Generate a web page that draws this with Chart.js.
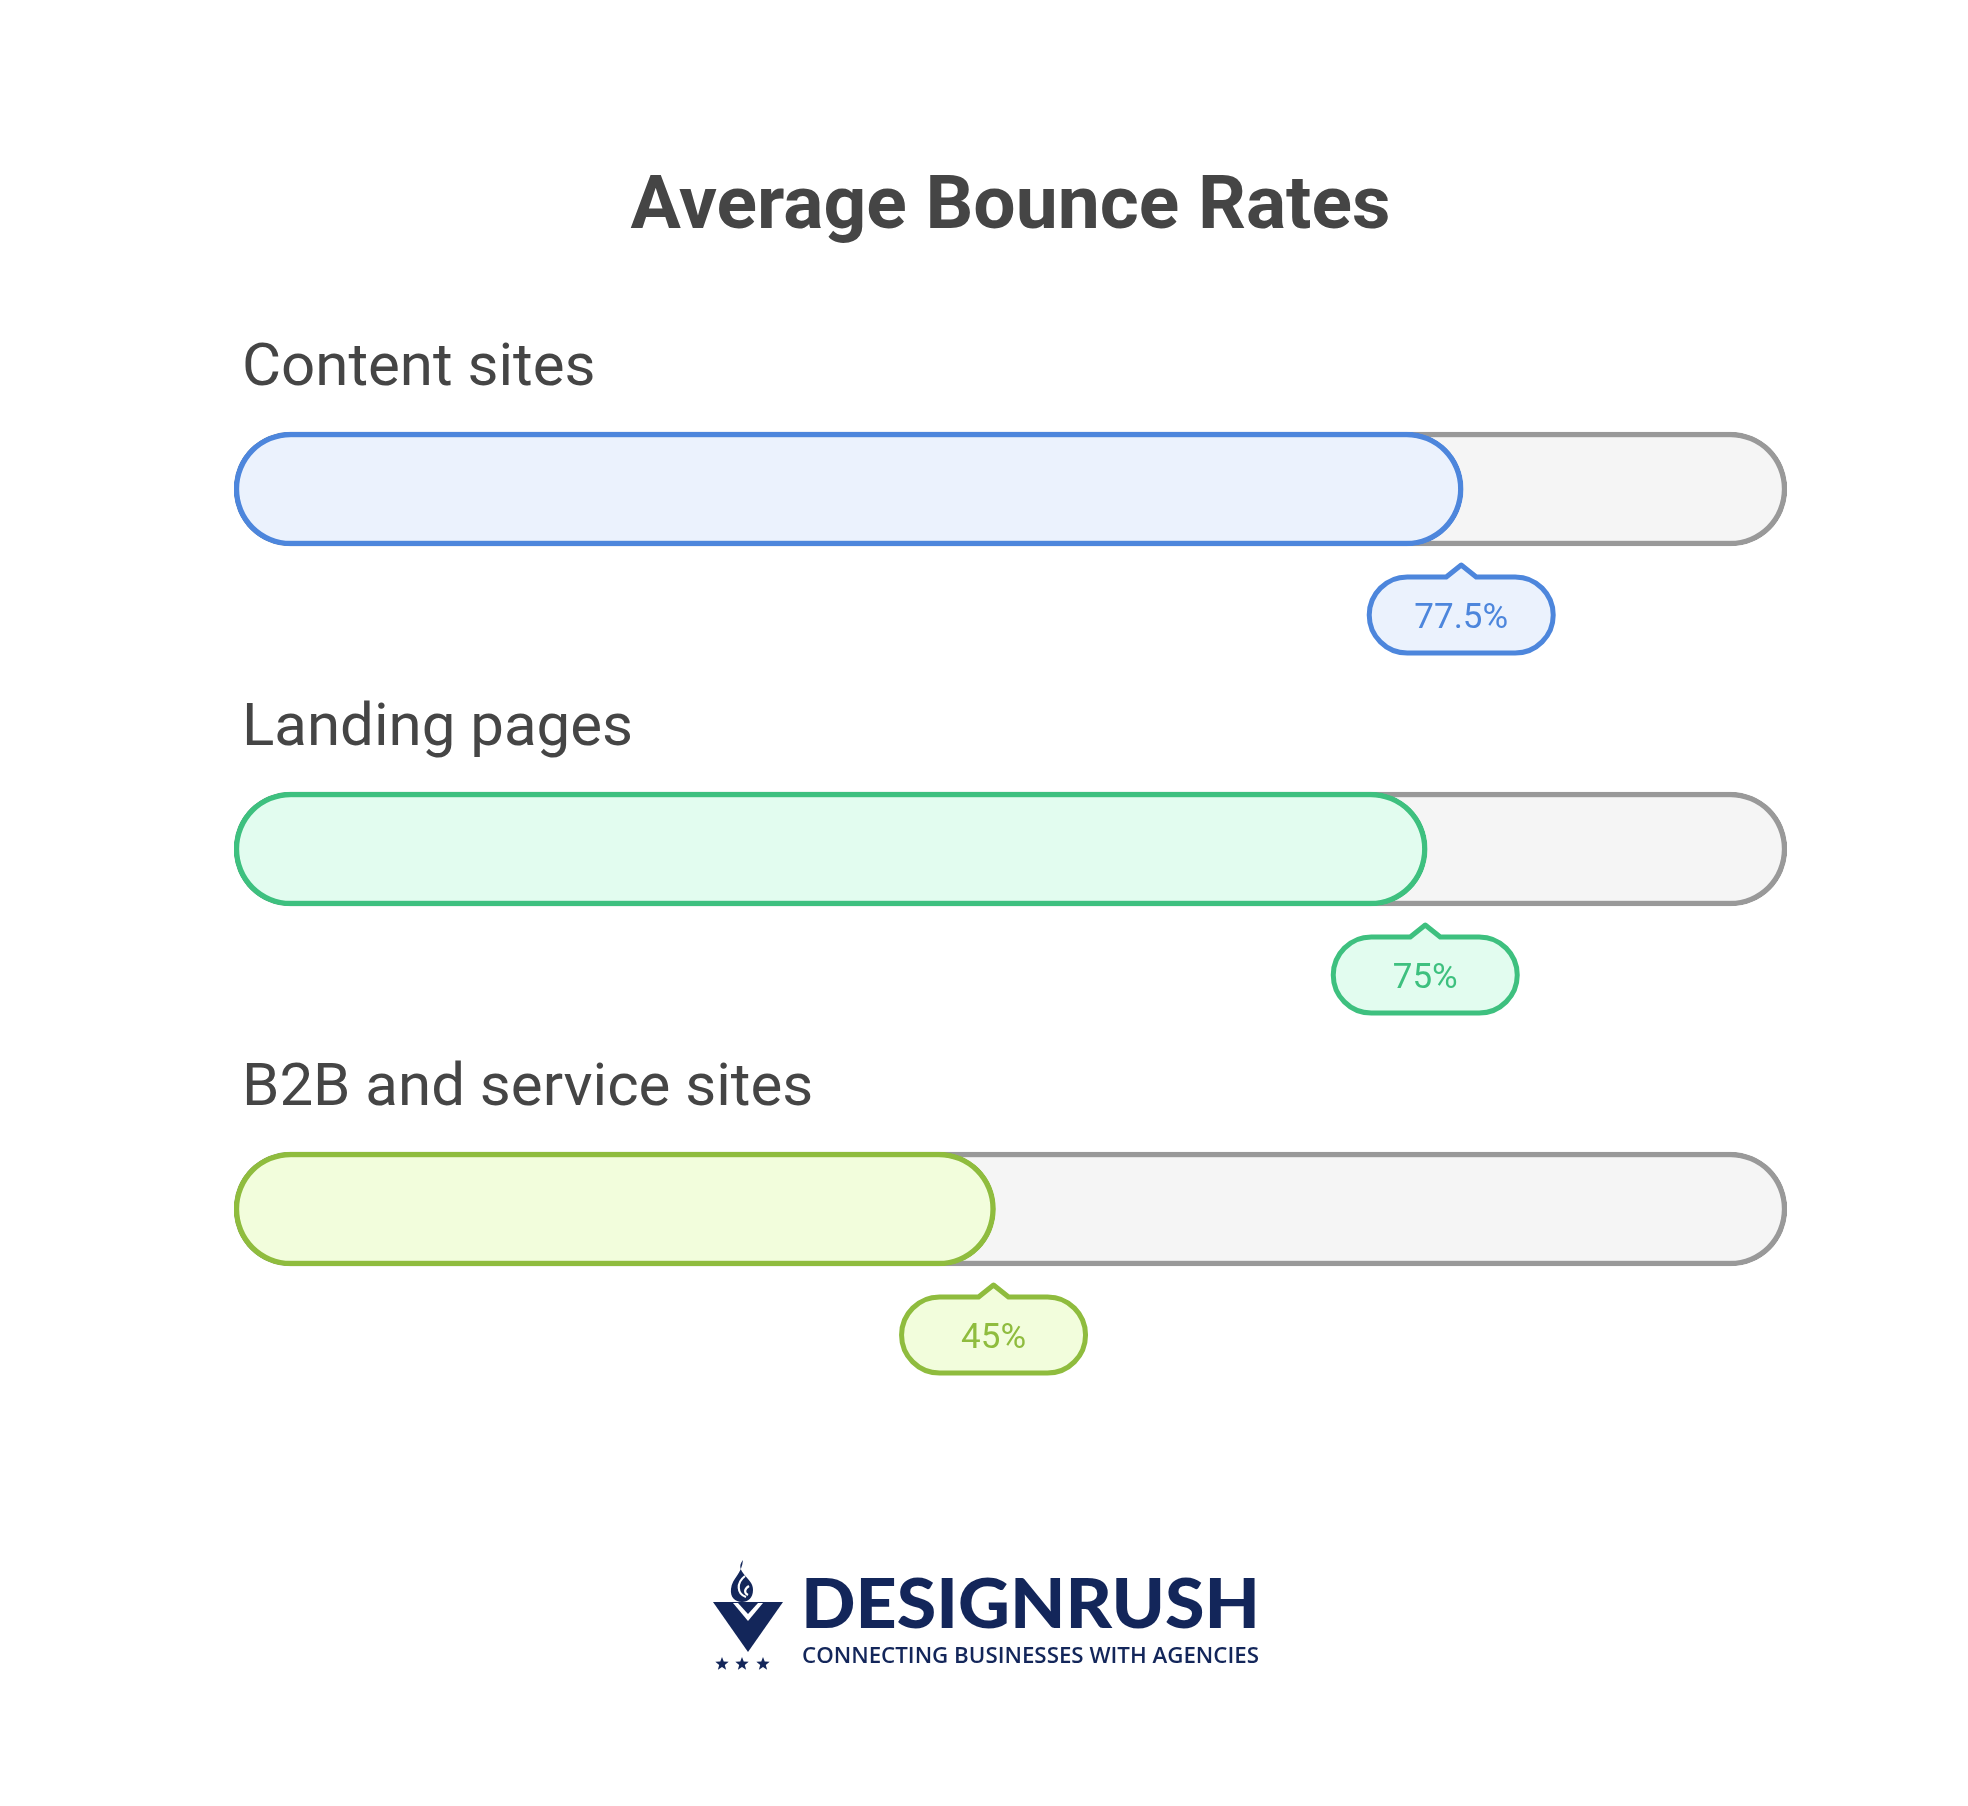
<!DOCTYPE html>
<html>
<head>
<meta charset="utf-8">
<script src="https://cdn.jsdelivr.net/npm/chart.js@4.4.1/dist/chart.umd.min.js"></script>
<style>
  html, body { margin: 0; padding: 0; background: #ffffff; }
  #wrap { width: 1968px; height: 1806px; }
</style>
</head>
<body>
<div id="wrap"><canvas id="c" width="1968" height="1806"></canvas></div>
<script>
// ---- data ----
const categories = ['Content sites', 'Landing pages', 'B2B and service sites'];
const values = [77.5, 75, 45];
const trackValues = [100, 100, 100];
const valueLabels = ['77.5%', '75%', '45%'];
const titleText = 'Average Bounce Rates';

// ---- styles ----
const strokeColors = ['#4d86dc', '#3ec07f', '#8fbc3e'];
const fillColors = ['#ebf2fd', '#e2fcef', '#f2fddc'];
const trackStroke = '#999999';
const trackFill = '#f5f5f5';
const textColor = '#454545';
const navy = '#13265a';

const LEFT = 234, RIGHT = 1787, BAR_H = 114;
const capUnits = BAR_H / (RIGHT - LEFT - BAR_H) * 100; // rounded pill start
const xMin = -capUnits;

const overlayPlugin = {
  id: 'overlay',
  afterDatasetsDraw(chart) {
    const ctx = chart.ctx;
    const yScale = chart.scales.y;
    const meta = chart.getDatasetMeta(1);
    ctx.save();
    // category labels
    ctx.fillStyle = textColor;
    ctx.font = '400 60px Roboto';
    ctx.textAlign = 'left';
    ctx.textBaseline = 'alphabetic';
    categories.forEach((c, i) => {
      const yc = yScale.getPixelForValue(i);
      ctx.fillText(c, chart.chartArea.left + 8, yc - 104);
    });
    // callouts
    meta.data.forEach((el, i) => {
      const cx = el.x - 2;
      const barBottom = el.y + el.height / 2;
      const tipY = barBottom + 19;
      const top = barBottom + 31;
      const h = 76, w = 184, r = h / 2;
      const l = cx - w / 2, rt = cx + w / 2;
      ctx.beginPath();
      ctx.moveTo(l + r, top);
      ctx.lineTo(cx - 15, top);
      ctx.lineTo(cx, tipY);
      ctx.lineTo(cx + 15, top);
      ctx.lineTo(rt - r, top);
      ctx.arc(rt - r, top + r, r, -Math.PI / 2, Math.PI / 2);
      ctx.lineTo(l + r, top + h);
      ctx.arc(l + r, top + r, r, Math.PI / 2, Math.PI * 1.5);
      ctx.closePath();
      ctx.fillStyle = fillColors[i];
      ctx.fill();
      ctx.lineWidth = 5;
      ctx.lineJoin = 'round';
      ctx.strokeStyle = strokeColors[i];
      ctx.stroke();
      ctx.fillStyle = strokeColors[i];
      ctx.font = '400 35px Roboto';
      ctx.textAlign = 'center';
      ctx.textBaseline = 'alphabetic';
      ctx.fillText(valueLabels[i], cx, top + h / 2 + 12.5);
    });
    drawLogo(ctx);
    ctx.restore();
  }
};

function star(ctx, x, y, R) {
  ctx.beginPath();
  for (let k = 0; k < 10; k++) {
    const rr = k % 2 === 0 ? R : R * 0.42;
    const a = -Math.PI / 2 + k * Math.PI / 5;
    const px = x + rr * Math.cos(a), py = y + rr * Math.sin(a);
    if (k === 0) ctx.moveTo(px, py); else ctx.lineTo(px, py);
  }
  ctx.closePath();
  ctx.fill();
}

function drawLogo(ctx) {
  ctx.save();
  ctx.fillStyle = navy;
  // V shape
  ctx.beginPath();
  ctx.moveTo(713, 1602);
  ctx.lineTo(783, 1602);
  ctx.lineTo(748, 1652);
  ctx.closePath();
  ctx.fill();
  // white notch in V
  ctx.fillStyle = '#ffffff';
  ctx.beginPath();
  ctx.moveTo(733, 1603);
  ctx.lineTo(763, 1603);
  ctx.lineTo(748, 1621);
  ctx.closePath();
  ctx.fill();
  ctx.fillStyle = navy;
  ctx.beginPath();
  ctx.moveTo(738, 1603);
  ctx.lineTo(758, 1603);
  ctx.lineTo(748, 1614);
  ctx.closePath();
  ctx.fill();
  // flame
  ctx.beginPath();
  ctx.moveTo(743, 1560);
  ctx.bezierCurveTo(733, 1572, 754, 1578, 753, 1590);
  ctx.bezierCurveTo(753, 1598, 748, 1602, 742, 1602);
  ctx.bezierCurveTo(735, 1602, 730, 1597, 731, 1589);
  ctx.bezierCurveTo(732, 1578, 742, 1574, 743, 1560);
  ctx.closePath();
  ctx.fill();
  ctx.strokeStyle = '#ffffff';
  ctx.lineWidth = 2.2;
  ctx.beginPath();
  ctx.moveTo(745, 1576);
  ctx.bezierCurveTo(736, 1583, 737, 1594, 746, 1597);
  ctx.stroke();
  ctx.beginPath();
  ctx.moveTo(749, 1586);
  ctx.bezierCurveTo(744, 1589, 744, 1593, 748, 1595);
  ctx.stroke();
  // stars
  ctx.fillStyle = navy;
  star(ctx, 722, 1664, 7);
  star(ctx, 742, 1664, 7);
  star(ctx, 763, 1664, 7);
  // wordmark
  ctx.textAlign = 'left';
  ctx.textBaseline = 'alphabetic';
  ctx.font = '900 68px Lato';
  let m = ctx.measureText('DESIGNRUSH').width;
  ctx.save();
  ctx.translate(801, 1628);
  ctx.scale(459 / m, 1);
  ctx.fillText('DESIGNRUSH', 0, 0);
  ctx.restore();
  ctx.font = '600 21px "Open Sans"';
  m = ctx.measureText('CONNECTING BUSINESSES WITH AGENCIES').width;
  ctx.save();
  ctx.translate(802, 1663);
  ctx.scale(457 / m, 1);
  ctx.fillText('CONNECTING BUSINESSES WITH AGENCIES', 0, 0);
  ctx.restore();
  ctx.restore();
}

const common = {
  borderWidth: 5.5,
  borderRadius: BAR_H / 2,
  borderSkipped: false,
  barThickness: BAR_H,
  grouped: false,
  base: xMin
};

new Chart(document.getElementById('c'), {
  type: 'bar',
  data: {
    labels: categories,
    datasets: [
      Object.assign({
        label: 'Track',
        data: trackValues,
        backgroundColor: trackFill,
        borderColor: trackStroke,
        order: 2
      }, common),
      Object.assign({
        label: 'Bounce rate',
        data: values,
        backgroundColor: fillColors,
        borderColor: strokeColors,
        order: 1
      }, common)
    ]
  },
  options: {
    indexAxis: 'y',
    responsive: false,
    animation: false,
    events: [],
    layout: { padding: { left: LEFT, right: 1968 - RIGHT, top: 0, bottom: 417 } },
    plugins: {
      legend: { display: false },
      tooltip: { enabled: false },
      title: {
        display: true,
        text: titleText,
        color: textColor,
        font: { family: 'Roboto', weight: 'bold', size: 75, lineHeight: 1.2 },
        padding: { top: 164, bottom: 55 }
      }
    },
    scales: {
      x: { type: 'linear', min: xMin, max: 100, display: false },
      y: { type: 'category', display: false, offset: true }
    }
  },
  plugins: [overlayPlugin]
});
</script>
</body>
</html>
